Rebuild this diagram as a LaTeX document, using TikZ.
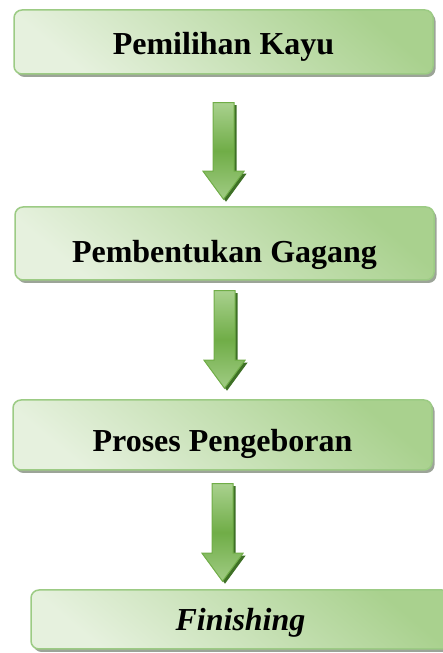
\documentclass[tikz,border=0pt]{standalone}
\usepackage{fontspec}
\setmainfont{Liberation Serif}
\usetikzlibrary{positioning,calc,shadows}
\definecolor{leafdark}{HTML}{A9D18E}
\definecolor{leaflight}{HTML}{E6F1DE}
\definecolor{leafedge}{HTML}{9CCB84}
\definecolor{leafgreen}{HTML}{70AD47}
\definecolor{leafshadow}{HTML}{3E7026}
\definecolor{boxshadow}{HTML}{9CA498}

\begin{document}
\begin{tikzpicture}[x=1pt,y=1pt,
  stepbox/.style={draw=leafedge, line width=1.5pt, rounded corners=8pt,
    top color=leafdark, bottom color=leaflight, shading angle=-40,
    minimum width=419pt, inner sep=0pt,
    font=\fontsize{32}{38}\selectfont\bfseries,
    drop shadow={shadow xshift=2.5pt, shadow yshift=-3pt, fill=boxshadow, opacity=1}},
  arrowbody/.style={draw=leafgreen, line width=1pt, line join=miter,
    top color=leafdark, bottom color=leafdark!85!leafgreen, middle color=leafgreen,
    drop shadow={shadow xshift=2.5pt, shadow yshift=-2.5pt, fill=leafshadow, opacity=1}}]
        \useasboundingbox (0,0) rectangle (443,653);
        % Steps
        \node[stepbox, minimum height=64pt, text height=30pt, text depth=4pt]
          (pilih) at (223.5,611) {Pemilihan Kayu};
        \node[stepbox, minimum height=73pt, text height=40pt, text depth=1pt]
          (bentuk) at (224.5,409.5) {Pembentukan Gagang};
        \node[stepbox, minimum height=70pt, text height=36pt, text depth=2pt]
          (bor) at (222.5,218) {Proses Pengeboran};
        \node[stepbox, minimum height=59pt, text height=28pt, text depth=7pt]
          (finish) at (240.5,33.5) {\itshape Finishing};
        % Block arrows between the steps
        \foreach \src/\dst/\gapa/\gapb in {pilih/bentuk/28/7, bentuk/bor/10/11, bor/finish/13/8}
          \path[arrowbody] ($(\src.south)+(-10.5,-\gapa)$)
            -- ($(\src.south |- \dst.north)+(-10.5,\gapb+28)$)
            -- ($(\src.south |- \dst.north)+(-20.5,\gapb+28)$)
            -- ($(\src.south |- \dst.north)+(0,\gapb)$)
            -- ($(\src.south |- \dst.north)+(20.5,\gapb+28)$)
            -- ($(\src.south |- \dst.north)+(10.5,\gapb+28)$)
            -- ($(\src.south)+(10.5,-\gapa)$) -- cycle;
      \end{tikzpicture}
\end{document}
